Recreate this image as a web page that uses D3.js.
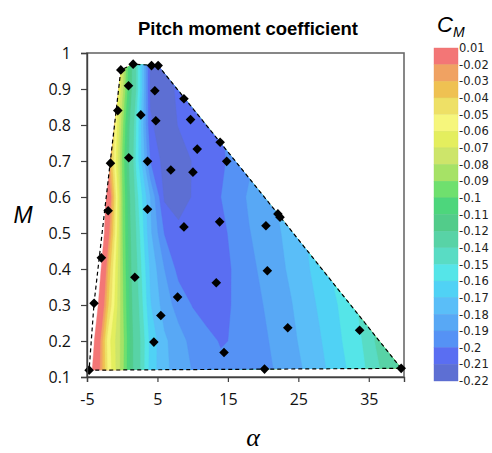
<!DOCTYPE html>
<html>
<head>
<meta charset="utf-8">
<script src="https://cdn.jsdelivr.net/npm/d3@7"></script>
<style>
  body { margin: 0; background: #fff; }
  svg { display: block; }
</style>
</head>
<body>
<svg id="chart" width="492" height="453"></svg>
<script>
// Angle of attack (deg) and Mach number of the test points
const alphaPts = [-4.7, -4.0, -2.96, -2.0, -1.67, -0.63, -0.2, 0.89, 0.93, 1.55, 1.79, 2.64, 3.59, 3.59,
  4.16, 4.49, 4.63, 4.77, 5.1, 5.48, 6.9, 7.86, 8.76, 8.76, 9.7, 10.04, 10.65, 13.35, 13.83, 13.9,
  14.45, 14.83, 20.2, 20.4, 20.6, 22.1, 22.4, 23.5, 33.7, 39.6];
const machPts = [0.119, 0.305, 0.431, 0.562, 0.694, 0.84, 0.953, 0.909, 0.709, 0.969, 0.377, 0.828, 0.699, 0.566,
  0.965, 0.197, 0.895, 0.812, 0.965, 0.271, 0.675, 0.322, 0.873, 0.517, 0.815, 0.669, 0.733, 0.362, 0.531, 0.752,
  0.168, 0.699, 0.122, 0.52, 0.395, 0.553, 0.544, 0.237, 0.23, 0.124];

// Pitch moment coefficient on a regular alpha x Mach grid
const gridAlpha = [-6, -4, -2, 0, 2, 4, 6, 8, 10, 12, 14, 16, 18, 20, 22, 24, 26, 28, 30, 32, 34, 36, 38, 40, 42];
const gridMach = [0.1, 0.2, 0.3, 0.4, 0.5, 0.6, 0.7, 0.8, 0.9, 1.0];
const cmGrid = [
  [0.045, 0.003, -0.051, -0.085, -0.13, -0.164, -0.1775, -0.184, -0.19, -0.195, -0.198, -0.199, -0.198, -0.194, -0.189, -0.184, -0.1795, -0.1735, -0.167, -0.16, -0.153, -0.144, -0.134, -0.12, -0.11],
  [0.055, 0.011, -0.055, -0.084, -0.13, -0.163, -0.178, -0.186, -0.193, -0.198, -0.2005, -0.1995, -0.197, -0.192, -0.187, -0.1823, -0.177, -0.171, -0.1645, -0.157, -0.15, -0.139, -0.127, -0.115, -0.105],
  [0.07, 0.03, -0.038, -0.086, -0.133, -0.169, -0.185, -0.194, -0.2005, -0.203, -0.2025, -0.199, -0.195, -0.19, -0.185, -0.1805, -0.1745, -0.1685, -0.162, -0.155, -0.147, -0.137, -0.125, -0.113, -0.1],
  [0.09, 0.05, -0.03, -0.087, -0.137, -0.172, -0.19, -0.203, -0.205, -0.206, -0.204, -0.1985, -0.1925, -0.188, -0.183, -0.178, -0.172, -0.1655, -0.158, -0.15, -0.14, -0.13, -0.12, -0.108, -0.095],
  [0.1, 0.07, -0.012, -0.088, -0.14, -0.178, -0.2005, -0.208, -0.208, -0.206, -0.2025, -0.197, -0.1905, -0.186, -0.1815, -0.176, -0.17, -0.163, -0.155, -0.147, -0.138, -0.128, -0.118, -0.106, -0.094],
  [0.1, 0.06, 0.0, -0.088, -0.145, -0.18, -0.2115, -0.2135, -0.2095, -0.2055, -0.2, -0.195, -0.1885, -0.184, -0.179, -0.173, -0.166, -0.159, -0.151, -0.143, -0.134, -0.124, -0.114, -0.102, -0.09],
  [0.06, 0.03, -0.02, -0.09, -0.152, -0.2, -0.214, -0.2145, -0.2095, -0.205, -0.2015, -0.197, -0.192, -0.187, -0.182, -0.176, -0.169, -0.162, -0.154, -0.146, -0.137, -0.127, -0.117, -0.105, -0.093],
  [0.05, 0.02, -0.015, -0.085, -0.15, -0.2085, -0.2155, -0.2095, -0.206, -0.203, -0.2005, -0.197, -0.192, -0.187, -0.182, -0.176, -0.169, -0.162, -0.154, -0.146, -0.137, -0.127, -0.117, -0.105, -0.093],
  [0.05, 0.02, -0.02, -0.075, -0.14, -0.212, -0.2165, -0.207, -0.204, -0.2015, -0.199, -0.196, -0.191, -0.186, -0.181, -0.175, -0.168, -0.161, -0.153, -0.145, -0.136, -0.126, -0.116, -0.104, -0.092],
  [0.05, 0.02, -0.015, -0.068, -0.14, -0.212, -0.216, -0.207, -0.204, -0.201, -0.198, -0.195, -0.19, -0.185, -0.18, -0.174, -0.167, -0.16, -0.152, -0.144, -0.135, -0.125, -0.115, -0.103, -0.091]
];

// Contour levels (colour bar labels) and band colours, top to bottom
const levelLabels = ["0.01", "-0.02", "-0.03", "-0.04", "-0.05", "-0.06", "-0.07", "-0.08", "-0.09", "-0.1",
  "-0.11", "-0.12", "-0.14", "-0.15", "-0.16", "-0.17", "-0.18", "-0.19", "-0.2", "-0.21", "-0.22"];
const levels = levelLabels.map(Number);
const bandColors = ["#f37676", "#f0a262", "#efc152", "#eee066", "#f6f67c", "#e4ee5e", "#cde56a", "#a6e266",
  "#6fe06e", "#4dd67c", "#52cc8a", "#58d3a6", "#59dcc4", "#55e5e8", "#50d2f5", "#5abef8", "#58a8f5",
  "#5592f5", "#5a6ef2", "#5d6fd3"];

const xTicks = [-5, 5, 15, 25, 35];
const yTicks = [0.1, 0.2, 0.3, 0.4, 0.5, 0.6, 0.7, 0.8, 0.9, 1];

const svg = d3.select("#chart");
const x = d3.scaleLinear().domain([-5, 40]).range([87, 404]);
const y = d3.scaleLinear().domain([0.1, 1]).range([377, 53]);

// Title
svg.append("text")
  .attr("x", 248).attr("y", 35)
  .attr("text-anchor", "middle")
  .attr("font-family", "Liberation Sans, Arial, sans-serif")
  .attr("font-weight", "bold").attr("font-size", 18.5)
  .text("Pitch moment coefficient");

// Frame
svg.append("rect")
  .attr("x", 87).attr("y", 53).attr("width", 317).attr("height", 324)
  .attr("fill", "none").attr("stroke", "#6a6a6a").attr("stroke-width", 1.6);

// Convex hull of the test points, used as the contour boundary
const pts = alphaPts.map((a, i) => [x(a), y(machPts[i])]);
const hull = d3.polygonHull(pts);
svg.append("clipPath").attr("id", "hullClip")
  .append("path").attr("d", "M" + hull.join("L") + "Z");

// Filled contour bands
const nx = gridAlpha.length, ny = gridMach.length;
const dA = gridAlpha[1] - gridAlpha[0], dM = gridMach[1] - gridMach[0];
const values = [];
for (let j = 0; j < ny; j++) for (let i = 0; i < nx; i++) values.push(-cmGrid[j][i]);
const bands = d3.contours().size([nx, ny])
  .thresholds(levels.slice(0, -1).map(v => -v))(values);
const gridProj = d3.geoTransform({
  point(gx, gy) {
    this.stream.point(x(gridAlpha[0] + (gx - 0.5) * dA), y(gridMach[0] + (gy - 0.5) * dM));
  }
});
const contourPath = d3.geoPath(gridProj);
svg.append("g").attr("clip-path", "url(#hullClip)")
  .selectAll("path").data(bands).join("path")
  .attr("d", contourPath)
  .attr("fill", (d, i) => bandColors[i])
  .attr("stroke", (d, i) => bandColors[i]).attr("stroke-width", 0.4);

// Hull outline
svg.append("path")
  .attr("d", "M" + hull.join("L") + "Z")
  .attr("fill", "none").attr("stroke", "#000")
  .attr("stroke-width", 1.2).attr("stroke-dasharray", "4,3");

// Test point markers
svg.append("g").selectAll("path").data(pts).join("path")
  .attr("d", d3.symbol(d3.symbolSquare, 46)())
  .attr("transform", d => `translate(${d[0]},${d[1]}) rotate(45)`)
  .attr("fill", "#000");

// Axes
const axisFont = "Open Sans, Liberation Sans, sans-serif";
const gy = svg.append("g").attr("transform", "translate(87,0)")
  .call(d3.axisLeft(y).tickValues(yTicks).tickSize(6).tickPadding(10).tickFormat(d => String(d)));
const gx = svg.append("g").attr("transform", "translate(0,377)")
  .call(d3.axisBottom(x).tickValues(xTicks).tickSize(5).tickPadding(12).tickFormat(d => String(d)));
[gx, gy].forEach(g => {
  g.selectAll(".domain").attr("stroke", "#404040").attr("stroke-width", 1.4);
  g.selectAll(".tick line").attr("stroke", "#404040").attr("stroke-width", 1.2);
  g.selectAll(".tick text").attr("font-family", axisFont).attr("font-size", 16).attr("fill", "#111");
});

// Axis titles
svg.append("text")
  .attr("x", 23).attr("y", 223).attr("text-anchor", "middle")
  .attr("font-family", "Liberation Sans, Arial, sans-serif")
  .attr("font-style", "italic").attr("font-size", 23)
  .text("M");
svg.append("text")
  .attr("x", 253).attr("y", 446).attr("text-anchor", "middle")
  .attr("font-family", "Liberation Serif, Times New Roman, serif")
  .attr("font-style", "italic").attr("font-size", 26)
  .text("α");

// Colour bar
const cb = d3.scalePoint().domain(levelLabels).range([48, 381]);
const cbG = svg.append("g");
cbG.selectAll("rect").data(bandColors).join("rect")
  .attr("x", 434).attr("width", 24)
  .attr("y", (d, i) => cb(levelLabels[i]))
  .attr("height", (d, i) => cb(levelLabels[i + 1]) - cb(levelLabels[i]))
  .attr("fill", d => d)
  .attr("stroke", d => d3.color(d).darker(0.12)).attr("stroke-width", 0.4);
cbG.selectAll("text").data(levelLabels).join("text")
  .attr("x", 459).attr("y", d => cb(d))
  .attr("dy", "0.36em")
  .attr("font-family", "DejaVu Sans, Verdana, sans-serif").attr("font-size", 11.5)
  .attr("fill", "#222")
  .text(d => d);

// Colour bar title C_M
const cmTitle = svg.append("text")
  .attr("x", 437).attr("y", 32)
  .attr("font-family", "Liberation Sans, Arial, sans-serif")
  .attr("font-style", "italic").attr("font-size", 22);
cmTitle.append("tspan").text("C");
cmTitle.append("tspan").attr("font-size", 14).attr("dy", 5).text("M");
</script>
</body>
</html>
